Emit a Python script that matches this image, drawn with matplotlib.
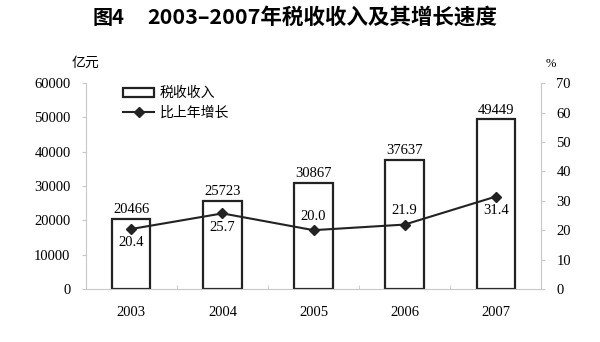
import matplotlib
matplotlib.use('Agg')
import matplotlib.pyplot as plt
import numpy as np

plt.rcParams['font.family'] = ['Liberation Serif', 'Noto Sans CJK SC', 'DejaVu Sans']

years = ['2003', '2004', '2005', '2006', '2007']
revenue = [20466, 25723, 30867, 37637, 49449]
growth = [20.4, 25.7, 20.0, 21.9, 31.4]
left_ticks = [0, 10000, 20000, 30000, 40000, 50000, 60000]
right_ticks = [0, 10, 20, 30, 40, 50, 60, 70]

cjk = ['Noto Sans CJK SC', 'DejaVu Sans']
grey = '#c8c8c8'

fig = plt.figure(figsize=(6, 3.42), dpi=100)
ax = fig.add_axes([0.143, 0.155, 0.759, 0.602])
x = np.arange(len(years))

ax.bar(x, revenue, width=0.42, facecolor='white', edgecolor='#222222',
       linewidth=1.6, label='税收收入', zorder=2)
ax.set_xlim(-0.5, 4.5)
ax.set_ylim(0, 60000)
ax.set_yticks(left_ticks)
ax.set_yticklabels([str(v) for v in left_ticks], fontsize=10.5)
ax.set_xticks(x)
ax.set_xticklabels(years, fontsize=10.5)
ax.set_xticks(np.arange(0.5, 4.5, 1), minor=True)
ax.tick_params(axis='x', which='major', length=0, pad=12)
ax.tick_params(axis='x', which='minor', length=3, color=grey, direction='in')
ax.tick_params(axis='y', length=3, color=grey, pad=8)
for v, xi in zip(revenue, x):
    ax.text(xi, v + 800, str(v), ha='center', va='bottom', fontsize=10.5)

for s in ['top', 'right']:
    ax.spines[s].set_visible(False)
ax.spines['left'].set_color(grey)
ax.spines['bottom'].set_color(grey)

ax2 = ax.twinx()
ax2.plot(x, growth, color='#222222', lw=1.5, marker='D', markersize=5,
         label='比上年增长', zorder=3)
ax2.set_ylim(0, 70)
ax2.set_yticks(right_ticks)
ax2.set_yticklabels([str(v) for v in right_ticks], fontsize=10.5)
ax2.tick_params(axis='y', length=3, color=grey, pad=8)
for s in ['top', 'left', 'bottom']:
    ax2.spines[s].set_visible(False)
ax2.spines['right'].set_color(grey)

# 数据标签上下位置按原图
offsets = [-1, -1, 1, 1, -1]
for xi, g, o in zip(x, growth, offsets):
    ax2.text(xi, g + o * 2.5, f'{g:.1f}', ha='center',
             va='bottom' if o > 0 else 'top', fontsize=10.5)

h1, l1 = ax.get_legend_handles_labels()
h2, l2 = ax2.get_legend_handles_labels()
ax.legend(h1 + h2, l1 + l2, loc='upper left', bbox_to_anchor=(0.055, 1.045),
          frameon=False, prop={'family': cjk, 'size': 10},
          handlelength=2.2, handleheight=0.7, labelspacing=0.4, handletextpad=0.4)

fig.text(0.12, 0.805, '亿元', family=cjk, fontsize=10, ha='left')
fig.text(0.91, 0.805, '%', fontsize=9, ha='left')
fig.text(0.155, 0.93, '图4', family=cjk, fontsize=14.5, fontweight='bold', ha='left')
fig.text(0.245, 0.93, '2003–2007年税收收入及其增长速度', family=cjk,
         fontsize=15.5, fontweight='bold', ha='left')

fig.savefig('out.png', dpi=100)
